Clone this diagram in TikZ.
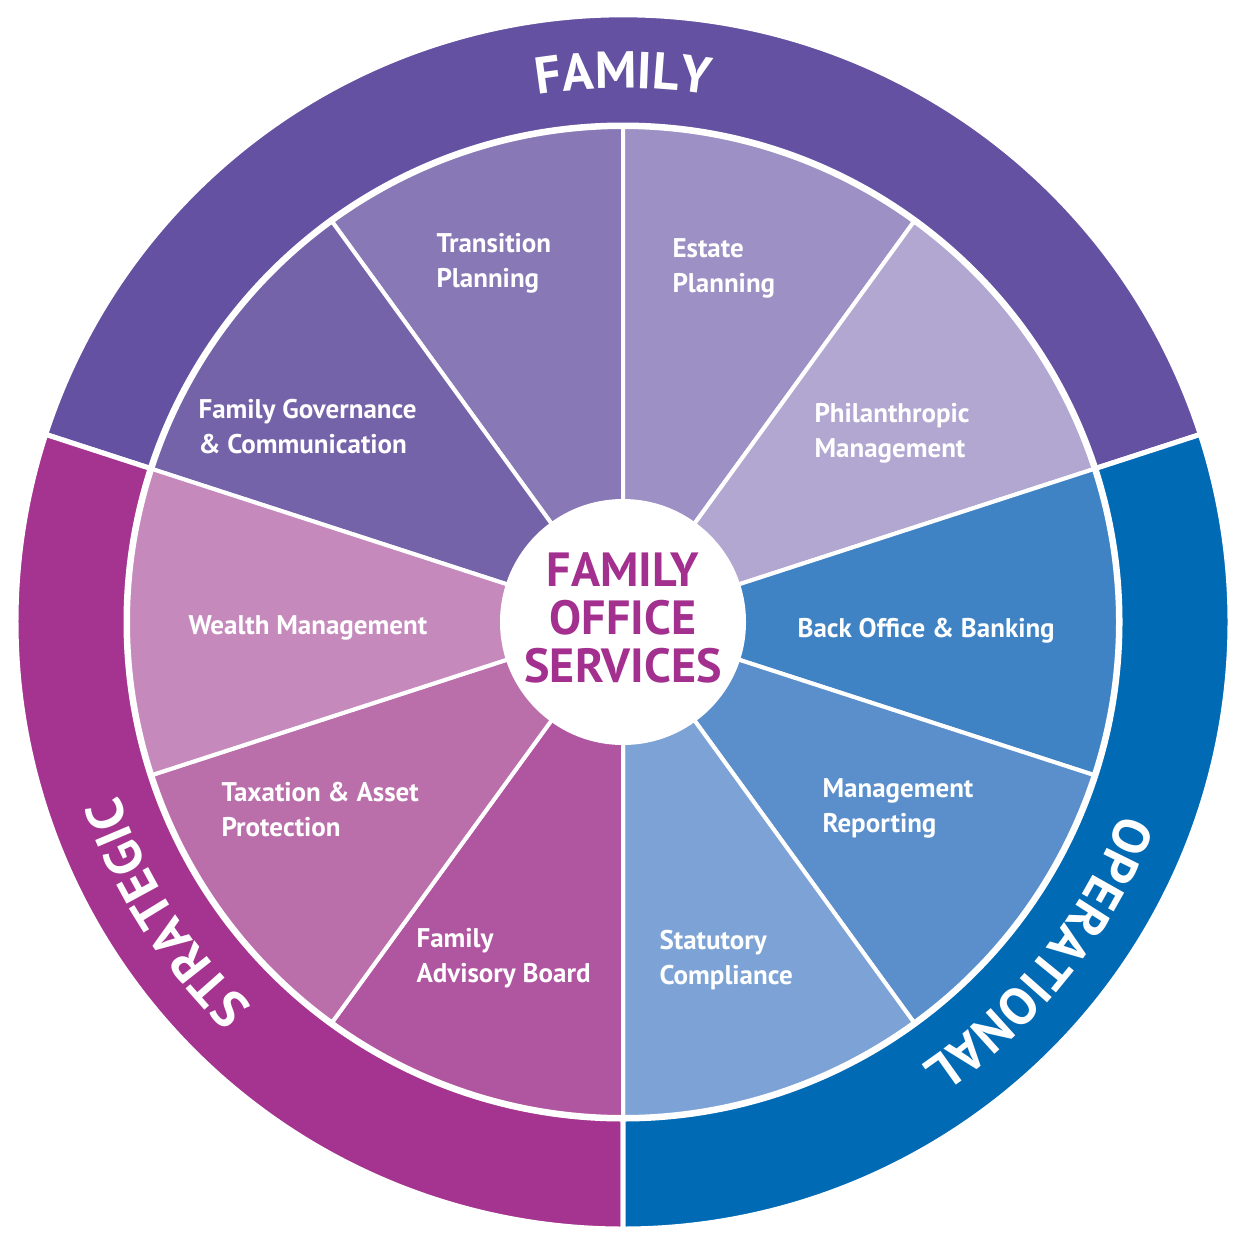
\documentclass[tikz,border=0pt]{standalone}
\usepackage{fontspec}
\setmainfont{PT Sans}
\usetikzlibrary{decorations.text}
\definecolor{cFam}{HTML}{6451A1}
\definecolor{cStr}{HTML}{A43490}
\definecolor{cOp}{HTML}{006AB5}
\definecolor{sA}{HTML}{8878B5}
\definecolor{sB}{HTML}{7563A9}
\definecolor{sC}{HTML}{9C90C4}
\definecolor{sD}{HTML}{B1A7D1}
\definecolor{sE}{HTML}{3F83C4}
\definecolor{sF}{HTML}{5B8FCB}
\definecolor{sG}{HTML}{7DA3D6}
\definecolor{sH}{HTML}{B055A0}
\definecolor{sI}{HTML}{BA6FAA}
\definecolor{sJ}{HTML}{C589BC}
\definecolor{cCtr}{HTML}{A3308F}
\tikzset{
  seglabel/.style={anchor=west,align=left,text=white,font=\fontsize{27}{35}\selectfont\bfseries},
  ringtext/.style={decorate,decoration={text along path,text align=center,
     text={|\fontsize{52}{52}\selectfont\bfseries\color{white}|#1}}},
}
\begin{document}
\begin{tikzpicture}[x=1pt,y=1pt]
\useasboundingbox[fill=white] (0,0) rectangle (1246,-1247);
\coordinate (O) at (623,-622);
% outer ring
\def\R{607}
\fill[cFam,draw=white,line width=5] (O) -- ++(18:\R) arc[start angle=18,end angle=162,radius=\R] -- cycle;
\fill[cStr,draw=white,line width=5] (O) -- ++(162:\R) arc[start angle=162,end angle=270,radius=\R] -- cycle;
\fill[cOp,draw=white,line width=5] (O) -- ++(-90:\R) arc[start angle=-90,end angle=18,radius=\R] -- cycle;
% inner segments
\def\r{495}
\foreach \a/\c in {90/sA,126/sB,54/sC,18/sD,-18/sE,-54/sF,-90/sG,234/sH,198/sI,162/sJ}{
  \fill[\c,draw=white,line width=4] (O) -- ++(\a:\r) arc[start angle=\a,end angle=\a+36,radius=\r] -- cycle;
}
\draw[white,line width=5] (O) circle[radius=\r+2];
\node[circle,fill=white,minimum size=246,inner sep=0] (ctr) at (O) {};
\node[align=center,text=cCtr,font=\fontsize{48}{48}\selectfont\bfseries] (ctrtext) at (623,-618) {FAMILY\\OFFICE\\SERVICES};
% ring texts
\path[ringtext=FAMILY] (O) ++(120:534) arc[start angle=120,end angle=60,radius=534];
\path[ringtext=STRATEGIC] (O) ++(245:534) arc[start angle=245,end angle=180,radius=534];
\path[ringtext=OPERATIONAL] (O) ++(-3:534) arc[start angle=-3,end angle=-74,radius=534];
% labels
\node[seglabel] (l1) at (433,-263) {Transition\\Planning};
\node[seglabel] (l2) at (669,-268) {Estate\\Planning};
\node[seglabel] (l3) at (195,-427) {Family Governance\\\& Communication};
\node[seglabel] (l4) at (811,-433) {Philanthropic\\Management};
\node[seglabel] (l5) at (185,-628) {Wealth Management};
\node[seglabel] (l6) at (794,-631) {Back Office \& Banking};
\node[seglabel] (l7) at (218,-810) {Taxation \& Asset\\Protection};
\node[seglabel] (l8) at (819,-808) {Management\\Reporting};
\node[seglabel] (l9) at (413,-958) {Family\\Advisory Board};
\node[seglabel] (l10) at (656,-960) {Statutory\\Compliance};
\end{tikzpicture}
\end{document}
